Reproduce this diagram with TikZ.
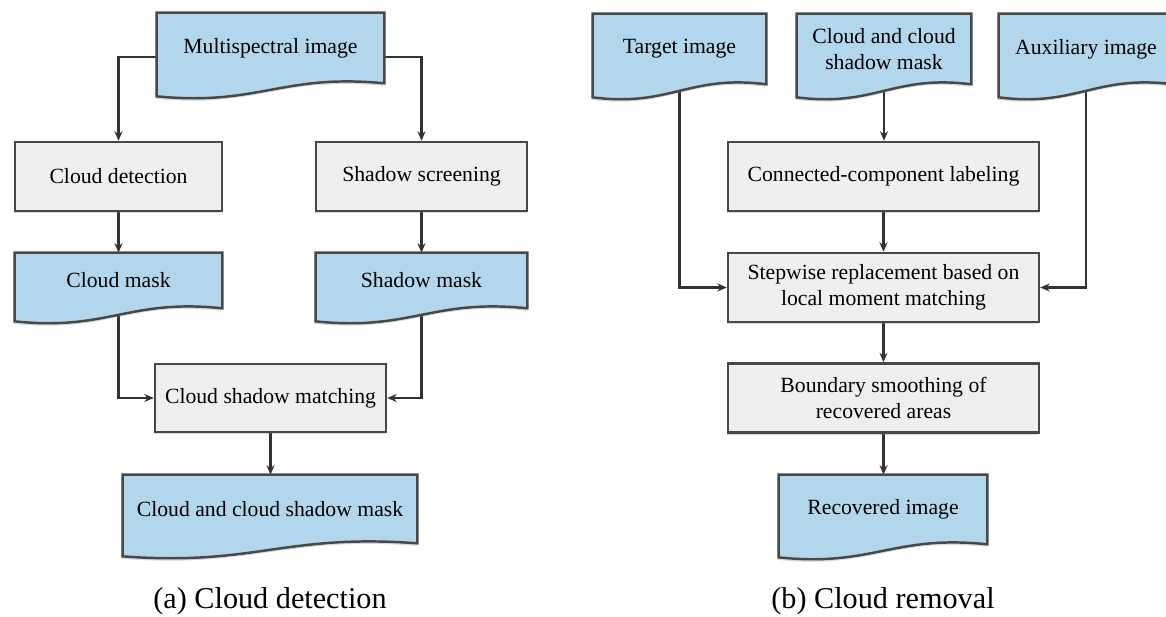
\documentclass[tikz,border=0pt]{standalone}
\usepackage{fontspec}
\setmainfont{Liberation Serif}
\usetikzlibrary{arrows.meta,calc,shadows}

\pgfdeclarelayer{lines}
\pgfdeclarelayer{docs}
\pgfsetlayers{lines,docs,main}

\definecolor{docblue}{RGB}{178,214,236}
\definecolor{procgray}{RGB}{239,239,239}
\definecolor{edgegray}{RGB}{72,72,72}
\definecolor{linegray}{RGB}{50,50,50}

% document outline (wavy bottom) behind a docnode
\newcommand{\docshape}[1]{%
  \begin{pgfonlayer}{docs}
    \draw[docline] (#1.north west) -- (#1.north east) -- (#1.south east)
      .. controls ($(#1.south east)!0.45!(#1.south west)+(0,0.2cm)$)
      and ($(#1.south west)!0.45!(#1.south east)+(0,-0.46cm)$)
      .. ($(#1.south west)+(0,-0.26cm)$) -- cycle;
  \end{pgfonlayer}}

\begin{document}
\begin{tikzpicture}[x=0.02cm, y=-0.02cm, font=\fontsize{12.35}{14.5}\selectfont]
    % Styles
    \tikzset{
        procbox/.style={rectangle, draw=edgegray, fill=procgray, line width=1.4pt, inner sep=0pt, align=center, minimum height=1.38cm, drop shadow={shadow xshift=-0.8pt, shadow yshift=-1.4pt, opacity=0.3}},
        docnode/.style={rectangle, inner sep=0pt, align=center, minimum height=1.4cm},
        docline/.style={draw=edgegray, fill=docblue, line width=1.4pt, drop shadow={shadow xshift=-0.8pt, shadow yshift=-1.4pt, opacity=0.3}},
        arrow/.style={-{Stealth[length=1.9mm, width=1.6mm]}, line width=1.2pt, draw=linegray},
        caption/.style={font=\fontsize{17.2}{20}\selectfont}
    }
    \useasboundingbox (0,0) rectangle (1166,617);

    % (a) Cloud detection
    \node[docnode, minimum width=4.54cm] (ms) at (270.5,48) {Multispectral image};
    \node[procbox, minimum width=4.14cm] (cd) at (118.5,176.5) {Cloud detection};
    \node[procbox, minimum width=4.22cm] (ss) at (421.5,176.5) {Shadow screening};
    \node[docnode, minimum width=4.14cm, minimum height=1.1cm] (cm) at (118.5,280.5) {Cloud mask};
    \node[docnode, minimum width=4.22cm, minimum height=1.1cm] (sm) at (421.5,280.5) {Shadow mask};
    \node[procbox, minimum width=4.62cm, minimum height=1.36cm] (csm) at (270.5,398) {Cloud shadow matching};
    \node[docnode, minimum width=5.88cm, minimum height=1.36cm] (ccsm) at (270,509) {Cloud and cloud shadow mask};
    \node[caption] (capA) at (270,601) {(a) Cloud detection};

    % (b) Cloud removal
    \node[docnode, minimum width=3.46cm] (ti) at (679.5,49) {Target image};
    \node[docnode, minimum width=3.48cm] (ccm) at (884,49) {Cloud and cloud\\shadow mask};
    \node[docnode, minimum width=3.48cm] (ai) at (1086,49) {Auxiliary image};
    \node[procbox, minimum width=6.22cm] (ccl) at (883.5,176.5) {Connected-component labeling};
    \node[procbox, minimum width=6.22cm] (sr) at (883.5,287.5) {Stepwise replacement based on\\local moment matching};
    \node[procbox, minimum width=6.22cm] (bs) at (883.5,398) {Boundary smoothing of\\recovered areas};
    \node[docnode, minimum width=4.16cm, minimum height=1.38cm] (ri) at (883,509.5) {Recovered image};
    \node[caption] (capB) at (883,601) {(b) Cloud removal};

    % Document shapes
    \foreach \d in {ms,cm,sm,ccsm,ti,ccm,ai,ri} {\docshape{\d}}

    % Arrows
    \begin{pgfonlayer}{lines}
        \draw[arrow] ([yshift=-0.18cm]ms.west) -| (cd.north);
        \draw[arrow] ([yshift=-0.18cm]ms.east) -| (ss.north);
        \draw[arrow] (cd) -- (cm);
        \draw[arrow] (ss) -- (sm);
        \draw[arrow] (cm.south) |- (csm.west);
        \draw[arrow] (sm.south) |- (csm.east);
        \draw[arrow] (csm) -- (csm |- ccsm.north);

        \draw[arrow] (ti.south) |- (sr.west);
        \draw[arrow] (ccm.south) -- (ccm |- ccl.north);
        \draw[arrow] (ai.south) |- (sr.east);
        \draw[arrow] (ccl) -- (sr);
        \draw[arrow] (sr) -- (bs);
        \draw[arrow] (bs) -- (bs |- ri.north);
    \end{pgfonlayer}
\end{tikzpicture}
\end{document}
